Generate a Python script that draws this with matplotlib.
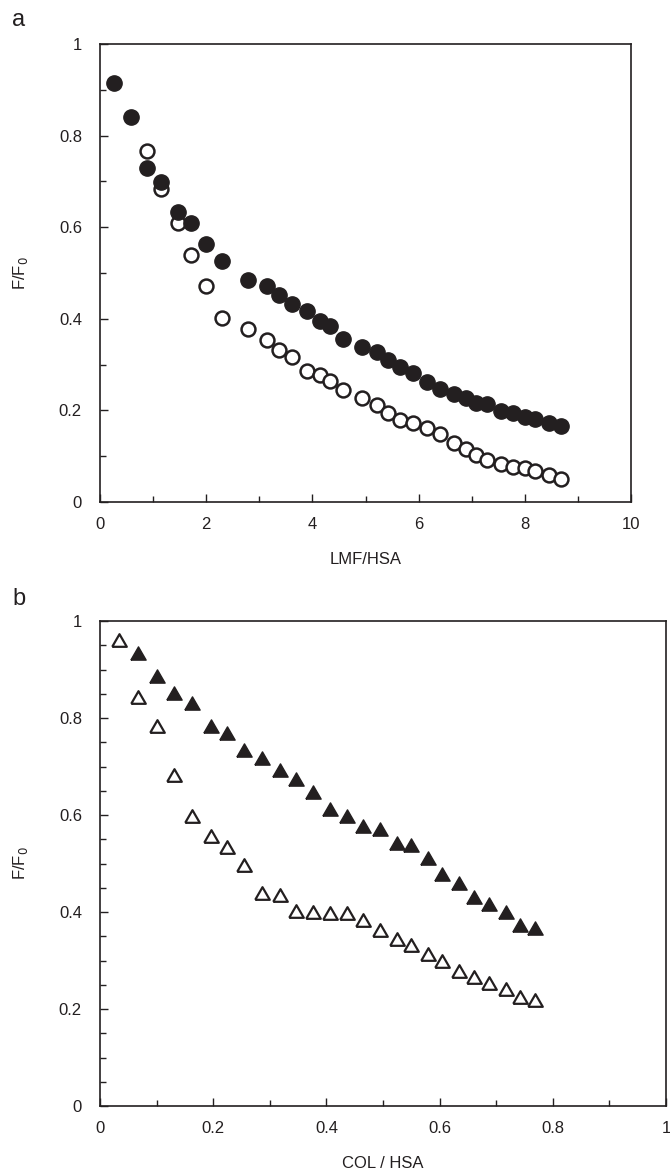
import numpy as np
import matplotlib
matplotlib.use("Agg")
import matplotlib.pyplot as plt
from matplotlib.ticker import MultipleLocator

plt.rcParams['font.family'] = ['Liberation Sans', 'DejaVu Sans']

INK = '#231f20'

# (a) quenching by LMF
lmf_x = [0.27, 0.58, 0.88, 1.15, 1.46, 1.71, 1.99, 2.30, 2.79, 3.14,
         3.38, 3.62, 3.89, 4.14, 4.34, 4.57, 4.93, 5.21, 5.42, 5.65,
         5.90, 6.16, 6.40, 6.67, 6.89, 7.09, 7.29, 7.55, 7.78, 8.00,
         8.19, 8.46, 8.68]
lmf_filled = [0.914, 0.840, 0.730, 0.698, 0.634, 0.610, 0.564, 0.527, 0.485, 0.472,
              0.453, 0.432, 0.416, 0.395, 0.384, 0.355, 0.338, 0.328, 0.310, 0.295,
              0.282, 0.263, 0.246, 0.236, 0.226, 0.217, 0.214, 0.199, 0.194, 0.186,
              0.181, 0.172, 0.166]
lmf_open = [0.766, 0.683, 0.610, 0.539, 0.471, 0.401, 0.378, 0.354,
            0.332, 0.317, 0.286, 0.277, 0.265, 0.245, 0.226, 0.212, 0.194, 0.179,
            0.172, 0.161, 0.148, 0.129, 0.115, 0.103, 0.092, 0.082, 0.077, 0.074,
            0.068, 0.059, 0.050]

# (b) quenching by COL
col_x = [0.034, 0.068, 0.100, 0.130, 0.163, 0.196, 0.225, 0.254, 0.287, 0.318,
         0.347, 0.377, 0.406, 0.436, 0.465, 0.495, 0.524, 0.549, 0.579, 0.605,
         0.635, 0.660, 0.687, 0.717, 0.742, 0.769]
col_filled = [0.934, 0.887, 0.852, 0.830, 0.783, 0.770, 0.734, 0.717, 0.692,
              0.674, 0.648, 0.613, 0.597, 0.578, 0.572, 0.543, 0.538, 0.512, 0.478,
              0.460, 0.431, 0.417, 0.400, 0.374, 0.366]
col_open = [0.961, 0.843, 0.783, 0.683, 0.597, 0.557, 0.535, 0.497, 0.440, 0.435,
            0.402, 0.400, 0.397, 0.397, 0.384, 0.362, 0.345, 0.331, 0.313, 0.300,
            0.279, 0.267, 0.253, 0.241, 0.224, 0.219]

W, H = 670, 1174
fig = plt.figure(figsize=(W / 100, H / 100), dpi=100)


def px_axes(left, top, right, bottom):
    return fig.add_axes([left / W, 1 - bottom / H, (right - left) / W, (bottom - top) / H])


ax_a = px_axes(100, 44, 631, 502)
ax_b = px_axes(100, 621, 666, 1106)

# equilateral triangle marker
tri = [(-1, -0.866), (1, -0.866), (0, 0.866), (-1, -0.866)]

ax_a.plot(lmf_x, lmf_filled, 'o', ms=11, color=INK, mec=INK, zorder=3)
ax_a.plot(lmf_x[2:], lmf_open, 'o', ms=10, mfc='white', mec=INK, mew=1.8, zorder=2)

ax_b.plot(col_x[1:], col_filled, ls='none', marker=tri, ms=11, color=INK, mec=INK, zorder=3)
ax_b.plot(col_x, col_open, ls='none', marker=tri, ms=10.5, mfc='white', mec=INK, mew=1.6, zorder=2)

ax_a.set_xlim(0, 10)
ax_a.set_ylim(0, 1)
ax_a.xaxis.set_major_locator(MultipleLocator(2))
ax_a.xaxis.set_minor_locator(MultipleLocator(1))
ax_a.yaxis.set_minor_locator(MultipleLocator(0.1))
ax_a.set_yticks([0, 0.2, 0.4, 0.6, 0.8, 1.0], ['0', '0.2', '0.4', '0.6', '0.8', '1'])

ax_b.set_xlim(0, 1)
ax_b.set_ylim(0, 1)
ax_b.xaxis.set_minor_locator(MultipleLocator(0.1))
ax_b.yaxis.set_minor_locator(MultipleLocator(0.05))
ax_b.set_xticks([0, 0.2, 0.4, 0.6, 0.8, 1.0], ['0', '0.2', '0.4', '0.6', '0.8', '1'])
ax_b.set_yticks([0, 0.2, 0.4, 0.6, 0.8, 1.0], ['0', '0.2', '0.4', '0.6', '0.8', '1'])

for ax in (ax_a, ax_b):
    for s in ax.spines.values():
        s.set_linewidth(1.2)
        s.set_color(INK)
    ax.tick_params(which='both', direction='in', top=False, right=False,
                   color=INK, width=1.0, labelsize=12, labelcolor=INK)
    ax.tick_params(which='major', length=5.5)
    ax.tick_params(which='minor', length=4.5)
    ax.tick_params(axis='y', pad=13)
    ax.tick_params(axis='x', pad=11)
    ax.set_ylabel('F/F$_0$', fontsize=12, color=INK)

ax_a.set_xlabel('LMF/HSA', fontsize=12, color=INK)
ax_b.set_xlabel('COL / HSA', fontsize=12, color=INK)
ax_a.xaxis.set_label_coords(0.5, -0.110)
ax_b.xaxis.set_label_coords(0.5, -0.103)
ax_a.yaxis.set_label_coords(-0.132, 0.5)
ax_b.yaxis.set_label_coords(-0.124, 0.5)

fig.text(12 / W, 1 - 20 / H, 'a', fontsize=17, color=INK, va='center', ha='left')
fig.text(12 / W, 1 - 599 / H, 'b', fontsize=17, color=INK, va='center', ha='left')

fig.savefig('out.png', dpi=100)
